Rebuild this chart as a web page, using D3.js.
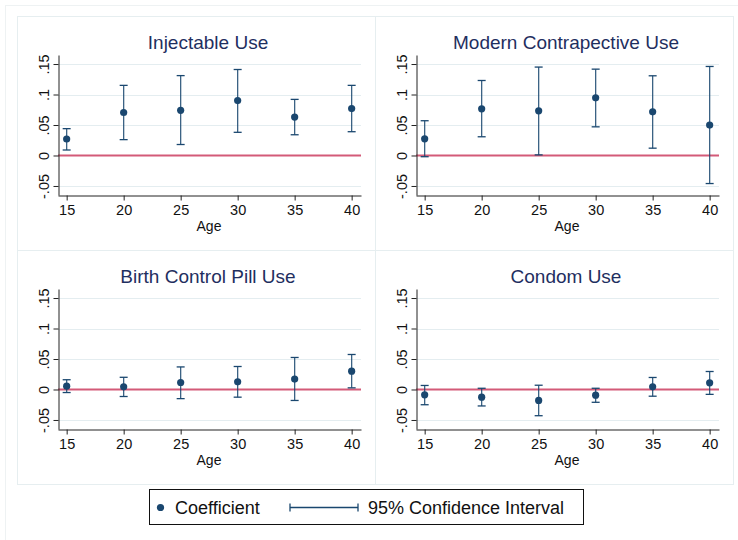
<!DOCTYPE html>
<html>
<head>
<meta charset="utf-8">
<script src="https://cdn.jsdelivr.net/npm/d3@7"></script>
<style>
  body { margin: 0; background: #fff; }
  svg { display: block; font-family: "Liberation Sans", Arial, Helvetica, sans-serif; }
</style>
</head>
<body>
<svg id="chart" width="738" height="540"></svg>
<script>
// Ages on the x axis
const ages = [15, 20, 25, 30, 35, 40];
const yTicks = [-0.05, 0, 0.05, 0.1, 0.15];

// Coefficients and 95% CI bounds, one set per panel
const injCoef = [0.027, 0.0705, 0.074, 0.090, 0.063, 0.077];
const injLow  = [0.009, 0.026, 0.018, 0.038, 0.034, 0.039];
const injHigh = [0.044, 0.115, 0.131, 0.141, 0.092, 0.115];

const modCoef = [0.0274, 0.0766, 0.0733, 0.0946, 0.0716, 0.0498];
const modLow  = [-0.002, 0.0307, 0.001, 0.047, 0.012, -0.046];
const modHigh = [0.057, 0.123, 0.145, 0.1416, 0.1307, 0.146];

const pillCoef = [0.0055, 0.0044, 0.0115, 0.0126, 0.017, 0.030];
const pillLow  = [-0.005, -0.0115, -0.015, -0.0126, -0.018, 0.0027];
const pillHigh = [0.016, 0.020, 0.037, 0.0377, 0.0525, 0.0574];

const conCoef = [-0.0087, -0.0126, -0.018, -0.0093, 0.0044, 0.011];
const conLow  = [-0.025, -0.027, -0.043, -0.021, -0.011, -0.008];
const conHigh = [0.0066, 0.002, 0.007, 0.002, 0.0197, 0.0295];

const panels = [
  { title: "Injectable Use", coef: injCoef, low: injLow, high: injHigh, col: 0, row: 0 },
  { title: "Modern Contrapective Use", coef: modCoef, low: modLow, high: modHigh, col: 1, row: 0 },
  { title: "Birth Control Pill Use", coef: pillCoef, low: pillLow, high: pillHigh, col: 0, row: 1 },
  { title: "Condom Use", coef: conCoef, low: conLow, high: conHigh, col: 1, row: 1 }
];

const navy = "#1a476f";
const red = "#d35a78";
const grid = "#e4edf0";
const border = "#e6eef0";

const svg = d3.select("#chart");

// outer frame
svg.append("rect")
  .attr("x", 5.5).attr("y", 5.5)
  .attr("width", 760).attr("height", 560)
  .attr("fill", "none").attr("stroke", "#eef2f3");

// panel geometry
const panelW = 358, panelH = 234;
const panelX = [17, 375], panelY = [16, 250];

const x = d3.scaleLinear().domain([14.24, 40.82]).range([41, 344]);
const y = d3.scaleLinear().domain([-0.0648, 0.1648]).range([179, 39]);

function fmt(d) {
  if (d === 0) return "0";
  return String(d).replace("0.", ".");
}

panels.forEach(function(p) {
  const g = svg.append("g")
    .attr("transform", "translate(" + panelX[p.col] + "," + panelY[p.row] + ")");

  g.append("rect")
    .attr("x", 0.5).attr("y", 0.5)
    .attr("width", panelW).attr("height", panelH)
    .attr("fill", "#fff").attr("stroke", border);

  g.append("text")
    .attr("x", 191).attr("y", 33)
    .attr("text-anchor", "middle")
    .attr("font-size", 19)
    .attr("fill", "#1f2f5f")
    .text(p.title);

  // gridlines
  g.selectAll(".grid")
    .data(yTicks)
    .enter()
    .append("line")
    .attr("x1", 41).attr("x2", 344)
    .attr("y1", d => Math.round(y(d)) + 0.5)
    .attr("y2", d => Math.round(y(d)) + 0.5)
    .attr("stroke", grid).attr("stroke-width", 1.2);

  // zero line
  g.append("line")
    .attr("x1", 41).attr("x2", 344)
    .attr("y1", y(0)).attr("y2", y(0))
    .attr("stroke", red).attr("stroke-width", 2);

  // axes
  const xAxis = g.append("g")
    .attr("transform", "translate(0,179.5)")
    .call(d3.axisBottom(x).tickValues(ages).tickSize(5).tickSizeOuter(0).tickPadding(4));
  xAxis.selectAll("text").attr("font-size", 14.5).attr("fill", "#111");
  xAxis.selectAll("path, line").attr("stroke", "#222");

  const yAxis = g.append("g")
    .attr("transform", "translate(41.5,0)")
    .call(d3.axisLeft(y).tickValues(yTicks).tickFormat(fmt).tickSize(5).tickSizeOuter(0));
  yAxis.selectAll("path, line").attr("stroke", "#222");
  yAxis.selectAll("text")
    .attr("font-size", 14.5).attr("fill", "#111")
    .attr("transform", "rotate(-90)")
    .attr("x", 0).attr("y", -10).attr("dy", 0)
    .attr("text-anchor", "middle");

  g.append("text")
    .attr("x", 192).attr("y", 215)
    .attr("text-anchor", "middle")
    .attr("font-size", 14)
    .attr("fill", "#111")
    .text("Age");

  // error bars
  const bars = g.selectAll(".ci")
    .data(ages)
    .enter()
    .append("g");
  bars.append("line")
    .attr("x1", d => x(d)).attr("x2", d => x(d))
    .attr("y1", (d, i) => y(p.low[i])).attr("y2", (d, i) => y(p.high[i]))
    .attr("stroke", navy).attr("stroke-width", 1.3).attr("opacity", 0.85);
  bars.append("line")
    .attr("x1", d => x(d) - 4).attr("x2", d => x(d) + 4)
    .attr("y1", (d, i) => y(p.low[i])).attr("y2", (d, i) => y(p.low[i]))
    .attr("stroke", navy).attr("stroke-width", 1.3);
  bars.append("line")
    .attr("x1", d => x(d) - 4).attr("x2", d => x(d) + 4)
    .attr("y1", (d, i) => y(p.high[i])).attr("y2", (d, i) => y(p.high[i]))
    .attr("stroke", navy).attr("stroke-width", 1.3);

  // coefficients
  g.selectAll(".pt")
    .data(ages)
    .enter()
    .append("circle")
    .attr("cx", d => x(d))
    .attr("cy", (d, i) => y(p.coef[i]))
    .attr("r", 3.6)
    .attr("fill", navy);
});

// legend
const leg = svg.append("g");
leg.append("rect")
  .attr("x", 149.5).attr("y", 489.5)
  .attr("width", 434).attr("height", 35)
  .attr("fill", "#fff").attr("stroke", "#111");
leg.append("circle")
  .attr("cx", 160.5).attr("cy", 507.5).attr("r", 3.6).attr("fill", navy);
leg.append("text")
  .attr("x", 175).attr("y", 513.5)
  .attr("font-size", 18).attr("fill", "#111")
  .text("Coefficient");
leg.append("line")
  .attr("x1", 290).attr("x2", 358).attr("y1", 507.5).attr("y2", 507.5)
  .attr("stroke", navy).attr("stroke-width", 1.3);
[290, 358].forEach(function(cx) {
  leg.append("line")
    .attr("x1", cx).attr("x2", cx).attr("y1", 503.5).attr("y2", 511.5)
    .attr("stroke", navy).attr("stroke-width", 1.3);
});
leg.append("text")
  .attr("x", 368).attr("y", 513.5)
  .attr("font-size", 18).attr("fill", "#111")
  .text("95% Confidence Interval");
</script>
</body>
</html>
